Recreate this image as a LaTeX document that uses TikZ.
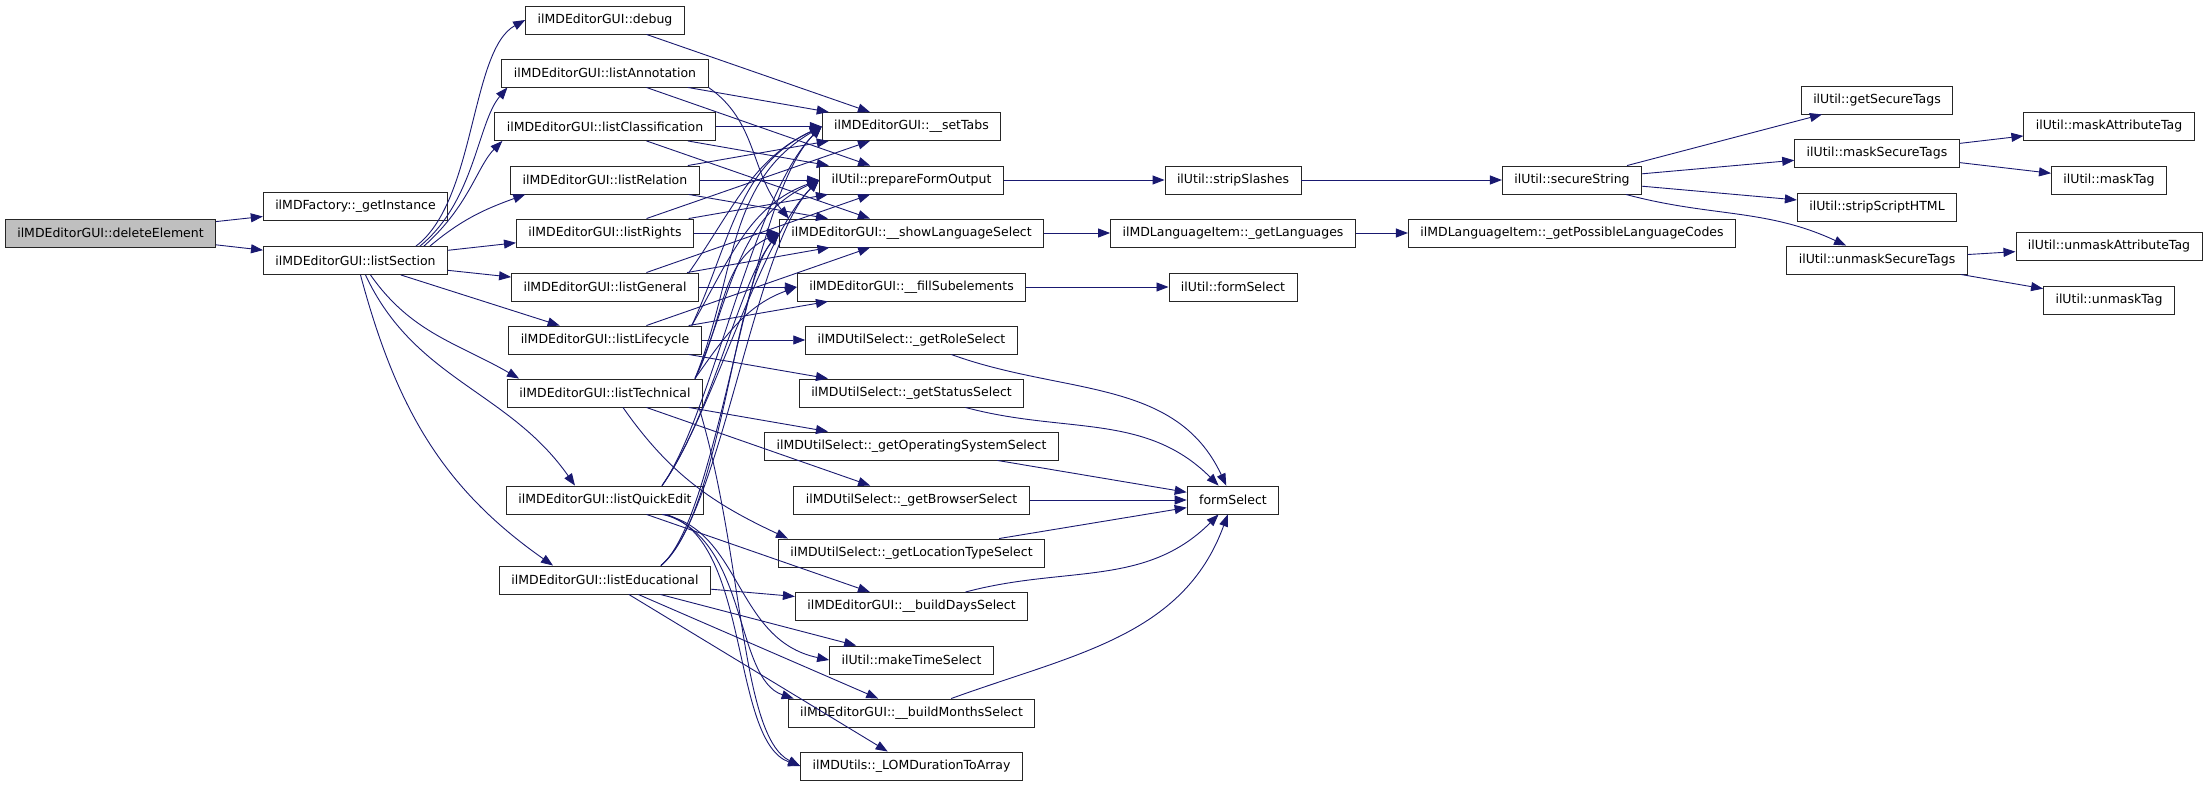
\documentclass[tikz,border=0pt]{standalone}
\usepackage{fontspec}
\setmainfont{DejaVu Sans}
\usetikzlibrary{arrows.meta}
\definecolor{callblue}{HTML}{191970}
\definecolor{rootgrey}{HTML}{BFBFBF}

\begin{document}
\begin{tikzpicture}[x=1pt,y=-1pt,
    func/.style={draw=black!85,line width=0.9pt,fill=white,minimum height=28pt,
      inner xsep=12pt,inner ysep=0pt,font=\fontsize{12.5}{14}\selectfont},
    root/.style={func,fill=rootgrey},
    call/.style={draw=callblue,line width=0.9pt,-{Triangle[length=12pt,width=9pt]}}]
  \useasboundingbox (0,0) rectangle (2208,787);

  \node[root] (deleteelement) at (110.5,233) {ilMDEditorGUI::deleteElement};
  \node[func] (getinstance) at (355.5,206.5) {ilMDFactory::\_getInstance};
  \node[func] (listsection) at (355.5,260.5) {ilMDEditorGUI::listSection};

  \node[func] (debug) at (605,20) {ilMDEditorGUI::debug};
  \node[func] (listannotation) at (605,73) {ilMDEditorGUI::listAnnotation};
  \node[func] (listclassification) at (605,126.5) {ilMDEditorGUI::listClassification};
  \node[func] (listrelation) at (605,180) {ilMDEditorGUI::listRelation};
  \node[func] (listrights) at (605,233) {ilMDEditorGUI::listRights};
  \node[func] (listgeneral) at (605,287) {ilMDEditorGUI::listGeneral};
  \node[func] (listlifecycle) at (605,340) {ilMDEditorGUI::listLifecycle};
  \node[func] (listtechnical) at (605,393) {ilMDEditorGUI::listTechnical};
  \node[func] (listquickedit) at (605,500) {ilMDEditorGUI::listQuickEdit};
  \node[func] (listeducational) at (605,580) {ilMDEditorGUI::listEducational};

  \node[func] (settabs) at (911.5,126.5) {ilMDEditorGUI::\_\_setTabs};
  \node[func] (prepareformoutput) at (911.5,180) {ilUtil::prepareFormOutput};
  \node[func] (showlanguageselect) at (911.5,233) {ilMDEditorGUI::\_\_showLanguageSelect};
  \node[func] (fillsubelements) at (911.5,287) {ilMDEditorGUI::\_\_fillSubelements};
  \node[func] (getroleselect) at (911.5,340) {ilMDUtilSelect::\_getRoleSelect};
  \node[func] (getstatusselect) at (911.5,393) {ilMDUtilSelect::\_getStatusSelect};
  \node[func] (getosselect) at (911.5,446) {ilMDUtilSelect::\_getOperatingSystemSelect};
  \node[func] (getbrowserselect) at (911.5,500) {ilMDUtilSelect::\_getBrowserSelect};
  \node[func] (getlocationselect) at (911.5,553) {ilMDUtilSelect::\_getLocationTypeSelect};
  \node[func] (builddaysselect) at (911.5,606.5) {ilMDEditorGUI::\_\_buildDaysSelect};
  \node[func] (maketimeselect) at (911.5,660) {ilUtil::makeTimeSelect};
  \node[func] (buildmonthsselect) at (911.5,713) {ilMDEditorGUI::\_\_buildMonthsSelect};
  \node[func] (lomdurationtoarray) at (911.5,766) {ilMDUtils::\_LOMDurationToArray};

  \node[func] (stripslashes) at (1233,180) {ilUtil::stripSlashes};
  \node[func] (getlanguages) at (1233,233) {ilMDLanguageItem::\_getLanguages};
  \node[func] (utilformselect) at (1233,287) {ilUtil::formSelect};
  \node[func] (formselect) at (1233,500) {formSelect};

  \node[func] (securestring) at (1572,180) {ilUtil::secureString};
  \node[func] (getpossiblecodes) at (1572,233) {ilMDLanguageItem::\_getPossibleLanguageCodes};

  \node[func] (getsecuretags) at (1877,100) {ilUtil::getSecureTags};
  \node[func] (masksecuretags) at (1877,153) {ilUtil::maskSecureTags};
  \node[func] (stripscripthtml) at (1877,207) {ilUtil::stripScriptHTML};
  \node[func] (unmasksecuretags) at (1877,260) {ilUtil::unmaskSecureTags};

  \node[func] (maskattributetag) at (2109,126) {ilUtil::maskAttributeTag};
  \node[func] (masktag) at (2109,180) {ilUtil::maskTag};
  \node[func] (unmaskattributetag) at (2109,246) {ilUtil::unmaskAttributeTag};
  \node[func] (unmasktag) at (2109,300) {ilUtil::unmaskTag};

  \draw[call] (deleteelement) -- (getinstance);
  \draw[call] (deleteelement) -- (listsection);

  \draw[call] ([xshift=-32pt]listsection.north east) .. controls +(60,-45) and +(-55,30) .. (debug.west);
  \draw[call] ([xshift=-28pt]listsection.north east) .. controls +(55,-45) and +(-30,35) .. ([xshift=6pt]listannotation.south west);
  \draw[call] ([xshift=-24pt]listsection.north east) .. controls +(45,-40) and +(-25,25) .. ([xshift=8pt]listclassification.south west);
  \draw[call] ([xshift=-18pt]listsection.north east) to[out=40,in=200] ([xshift=15pt]listrelation.south west);
  \draw[call] (listsection) -- (listrights);
  \draw[call] (listsection) -- (listgeneral);
  \draw[call] (listsection) -- (listlifecycle);
  \draw[call] ([xshift=15pt]listsection.south) to[out=-55,in=150] ([xshift=12pt]listtechnical.north west);
  \draw[call] ([xshift=10pt]listsection.south) to[out=-65,in=125] ([xshift=-30pt]listquickedit.north);
  \draw[call] ([xshift=5pt]listsection.south) to[out=-75,in=145] ([xshift=-52pt]listeducational.north);

  \draw[call] (debug) -- (settabs);
  \draw[call] (listannotation) -- (settabs);
  \draw[call] (listannotation) -- (prepareformoutput);
  \draw[call] (listannotation.south east) to[out=-35,in=130] ([xshift=10pt]showlanguageselect.north west);
  \draw[call] (listclassification) -- (settabs);
  \draw[call] (listclassification) -- (prepareformoutput);
  \draw[call] (listclassification) -- (showlanguageselect);
  \draw[call] (listrelation) -- (settabs);
  \draw[call] (listrelation) -- (prepareformoutput);
  \draw[call] (listrelation) -- (showlanguageselect);
  \draw[call] (listrights) -- (settabs);
  \draw[call] (listrights) -- (prepareformoutput);
  \draw[call] (listrights) -- (showlanguageselect);
  \draw[call] ([xshift=-10pt]listgeneral.north east) to[out=55,in=205] (settabs.west);
  \draw[call] (listgeneral) -- (prepareformoutput);
  \draw[call] (listgeneral) -- (showlanguageselect);
  \draw[call] (listgeneral) -- (fillsubelements);
  \draw[call] ([xshift=-10pt]listlifecycle.north east) to[out=65,in=205] (settabs.west);
  \draw[call] ([xshift=-10pt]listlifecycle.north east) to[out=60,in=200] (prepareformoutput.west);
  \draw[call] (listlifecycle) -- (showlanguageselect);
  \draw[call] (listlifecycle) -- (fillsubelements);
  \draw[call] (listlifecycle) -- (getroleselect);
  \draw[call] (listlifecycle) -- (getstatusselect);
  \draw[call] ([xshift=-8pt]listtechnical.north east) to[out=68,in=210] (settabs.west);
  \draw[call] ([xshift=-8pt]listtechnical.north east) to[out=66,in=205] (prepareformoutput.west);
  \draw[call] ([xshift=-8pt]listtechnical.north east) to[out=63,in=205] (showlanguageselect.west);
  \draw[call] ([xshift=-8pt]listtechnical.north east) to[out=55,in=200] (fillsubelements.west);
  \draw[call] (listtechnical) -- (getosselect);
  \draw[call] (listtechnical) -- (getbrowserselect);
  \draw[call] ([xshift=-80pt]listtechnical.south east) to[out=-55,in=155] ([xshift=10pt]getlocationselect.north west);
  \draw[call] ([xshift=-4pt]listtechnical.south east) .. controls +(45,150) and +(-60,-30) .. (lomdurationtoarray.west);
  \draw[call] ([xshift=-42pt]listquickedit.north east) .. controls +(50,-70) and +(-70,70) .. (settabs.west);
  \draw[call] ([xshift=-42pt]listquickedit.north east) .. controls +(50,-70) and +(-60,60) .. (prepareformoutput.west);
  \draw[call] ([xshift=-42pt]listquickedit.north east) .. controls +(50,-70) and +(-40,50) .. (showlanguageselect.west);
  \draw[call] (listquickedit) -- (builddaysselect);
  \draw[call] ([xshift=-42pt]listquickedit.south east) .. controls +(80,15) and +(-95,-20) .. (maketimeselect.west);
  \draw[call] ([xshift=-40pt]listquickedit.south east) .. controls +(85,25) and +(-60,-20) .. ([xshift=6pt]buildmonthsselect.north west);
  \draw[call] ([xshift=-38pt]listquickedit.south east) .. controls +(85,25) and +(-70,-25) .. (lomdurationtoarray.west);
  \draw[call] ([xshift=-50pt]listeducational.north east) .. controls +(60,-50) and +(-75,75) .. (settabs.west);
  \draw[call] ([xshift=-50pt]listeducational.north east) .. controls +(60,-50) and +(-65,65) .. (prepareformoutput.west);
  \draw[call] ([xshift=-50pt]listeducational.north east) .. controls +(60,-50) and +(-45,55) .. (showlanguageselect.west);
  \draw[call] (listeducational) -- (builddaysselect);
  \draw[call] (listeducational) -- (maketimeselect);
  \draw[call] (listeducational) -- (buildmonthsselect);
  \draw[call] (listeducational) -- (lomdurationtoarray);

  \draw[call] (prepareformoutput) -- (stripslashes);
  \draw[call] (stripslashes) -- (securestring);
  \draw[call] (securestring) -- (getsecuretags);
  \draw[call] (securestring) -- (masksecuretags);
  \draw[call] (securestring) -- (stripscripthtml);
  \draw[call] (securestring) to[out=-15,in=155] (unmasksecuretags);
  \draw[call] (masksecuretags) -- (maskattributetag);
  \draw[call] (masksecuretags) -- (masktag);
  \draw[call] (unmasksecuretags) -- (unmaskattributetag);
  \draw[call] (unmasksecuretags) -- (unmasktag);
  \draw[call] (showlanguageselect) -- (getlanguages);
  \draw[call] (getlanguages) -- (getpossiblecodes);
  \draw[call] (fillsubelements) -- (utilformselect);

  \draw[call] (getroleselect) to[out=-20,in=115] (formselect);
  \draw[call] (getstatusselect) to[out=-15,in=135] (formselect);
  \draw[call] (getosselect) -- (formselect);
  \draw[call] (getbrowserselect) -- (formselect);
  \draw[call] (getlocationselect) -- (formselect);
  \draw[call] (builddaysselect) to[out=15,in=-135] (formselect);
  \draw[call] (buildmonthsselect) to[out=20,in=-110] (formselect);
\end{tikzpicture}
\end{document}
